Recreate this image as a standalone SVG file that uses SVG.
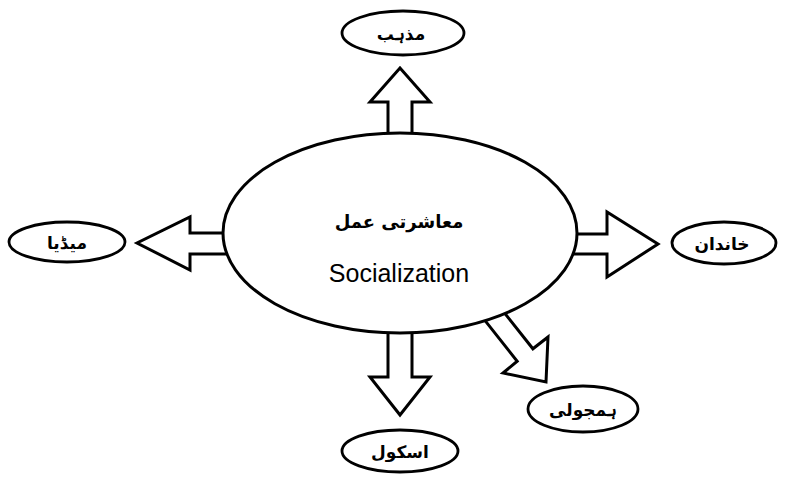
<svg xmlns="http://www.w3.org/2000/svg" width="787" height="483" viewBox="0 0 787 483">
<style>
.shape{fill:#fff;stroke:#000;stroke-width:3;stroke-linejoin:miter}
.node{fill:#fff;stroke:#000;stroke-width:2.8}
.ur{font-family:"DejaVu Sans",sans-serif;font-size:17px;font-weight:bold;text-anchor:middle;fill:#000}
.big{font-size:18px}
.en{font-family:"Liberation Sans",Arial,sans-serif;font-size:25px;text-anchor:middle;fill:#000}
</style>
<rect width="787" height="483" fill="#fff"/>
<g id="connectors">
<polygon class="shape" points="388,145 388,102 370,102 400,68 430,102 412,102 412,145"/>
<polygon class="shape" points="388,320 388,377 370,377 400,415 430,377 412,377 412,320"/>
<polygon class="shape" points="235,233 190,233 190,217 137,243 190,270 190,254 235,254"/>
<polygon class="shape" points="565,234 607,234 607,212 658,244 607,277 607,254 565,254"/>
<polygon class="shape" points="495.6,301.7 532.9,348.8 548,337 546,382 503,373 517.2,361.2 479.9,314.1"/>
</g>
<g id="center">
<ellipse class="shape" cx="400" cy="233" rx="177" ry="100"/>
<text class="ur big" x="399" y="228" direction="rtl">معاشرتی عمل</text>
<text class="en" x="399" y="282">Socialization</text>
</g>
<g id="mazhab">
<ellipse class="node" cx="403" cy="33" rx="61" ry="22"/>
<text class="ur" x="401" y="40" direction="rtl">مذہب</text>
</g>
<g id="media">
<ellipse class="node" cx="67" cy="242" rx="58" ry="20"/>
<text class="ur" x="67" y="249" direction="rtl">میڈیا</text>
</g>
<g id="khandan">
<ellipse class="node" cx="724" cy="243" rx="52" ry="21"/>
<text class="ur" x="722" y="250" direction="rtl">خاندان</text>
</g>
<g id="school">
<ellipse class="node" cx="400" cy="451" rx="58" ry="21"/>
<text class="ur" x="400" y="458" direction="rtl">اسکول</text>
</g>
<g id="hamjoli">
<ellipse class="node" cx="583" cy="409" rx="55" ry="23"/>
<text class="ur" x="583" y="416" direction="rtl">ہمجولی</text>
</g>
</svg>
